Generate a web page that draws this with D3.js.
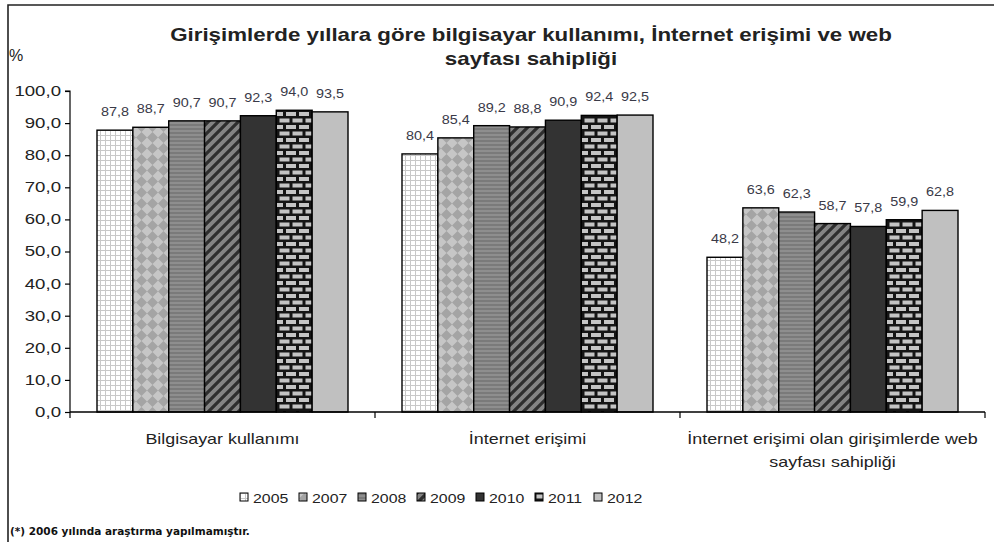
<!DOCTYPE html>
<html>
<head>
<meta charset="utf-8">
<script src="https://cdn.jsdelivr.net/npm/d3@7"></script>
<style>
  body { margin: 0; background: #fff; }
  text { font-family: "Liberation Sans", Arial, sans-serif; }
</style>
</head>
<body>
<div id="chart"></div>
<script>
var width = 994,
    height = 542;

// data
var categories = ["Bilgisayar kullanımı", "İnternet erişimi", "İnternet erişimi olan girişimlerde web sayfası sahipliği"];
var categoryLines = [["Bilgisayar kullanımı"], ["İnternet erişimi"], ["İnternet erişimi olan girişimlerde web", "sayfası sahipliği"]];
var years = ["2005", "2007", "2008", "2009", "2010", "2011", "2012"];
var v2005 = [87.8, 80.4, 48.2];
var v2007 = [88.7, 85.4, 63.6];
var v2008 = [90.7, 89.2, 62.3];
var v2009 = [90.7, 88.8, 58.7];
var v2010 = [92.3, 90.9, 57.8];
var v2011 = [94.0, 92.4, 59.9];
var v2012 = [93.5, 92.5, 62.8];
var yTicks = [0, 10, 20, 30, 40, 50, 60, 70, 80, 90, 100];

var seriesValues = [v2005, v2007, v2008, v2009, v2010, v2011, v2012];

var plotLeft = 70, plotRight = 985, plotTop = 91, plotBottom = 412;

var svg = d3.select("#chart").append("svg")
    .attr("width", width)
    .attr("height", height);

var defs = svg.append("defs");

// the original picture is stretched sideways, so text gets a horizontal scale
function wideText(parent, x, y, str, size, sx) {
    return parent.append("text")
        .attr("transform", "translate(" + x + "," + y + ") scale(" + sx + ",1)")
        .style("font-size", size + "px")
        .attr("fill", "#222")
        .text(str);
}

/* patterns, one per year */
function makePattern(id, w, h) {
    return defs.append("pattern")
        .attr("id", id)
        .attr("patternUnits", "userSpaceOnUse")
        .attr("width", w)
        .attr("height", h);
}

// 2005: white with light grid
var p = makePattern("p2005", 5, 5);
p.append("rect").attr("width", 5).attr("height", 5).attr("fill", "#ffffff");
p.append("rect").attr("width", 5).attr("height", 1).attr("fill", "#c8c8c8");
p.append("rect").attr("width", 1).attr("height", 5).attr("fill", "#c8c8c8");

// 2007: light gray diamonds
p = makePattern("p2007", 11, 11);
p.append("rect").attr("width", 11).attr("height", 11).attr("fill", "#c6c6c6");
p.append("path").attr("d", "M5.5,0 L11,5.5 L5.5,11 L0,5.5 Z").attr("fill", "#a4a4a4");

// 2008: horizontal stripes
p = makePattern("p2008", 4, 4);
p.append("rect").attr("width", 4).attr("height", 4).attr("fill", "#8e8e8e");
p.append("rect").attr("width", 4).attr("height", 2).attr("fill", "#7a7a7a");

// 2009: diagonal stripes
p = makePattern("p2009", 10, 10);
p.append("rect").attr("width", 10).attr("height", 10).attr("fill", "#848484");
p.append("path").attr("d", "M-2,12 L12,-2 M-7,7 L7,-7 M3,17 L17,3")
    .attr("stroke", "#2e2e2e").attr("stroke-width", 3.2);

// 2010: solid dark
p = makePattern("p2010", 4, 4);
p.append("rect").attr("width", 4).attr("height", 4).attr("fill", "#333333");

// 2011: bricks
p = makePattern("p2011", 13, 13);
p.append("rect").attr("width", 13).attr("height", 13).attr("fill", "#151515");
p.append("rect").attr("x", 1.5).attr("y", 1.5).attr("width", 10).attr("height", 4).attr("fill", "#c4c4c4");
p.append("rect").attr("x", -5).attr("y", 8).attr("width", 10).attr("height", 4).attr("fill", "#c4c4c4");
p.append("rect").attr("x", 8).attr("y", 8).attr("width", 10).attr("height", 4).attr("fill", "#c4c4c4");

// 2012: solid light gray
p = makePattern("p2012", 4, 4);
p.append("rect").attr("width", 4).attr("height", 4).attr("fill", "#c0c0c0");

/* frame */
svg.append("path")
    .attr("d", "M8," + height + " L8,5 L" + width + ",5")
    .attr("fill", "none")
    .attr("stroke", "#222")
    .attr("stroke-width", 1.6);

/* scales */
var x0 = d3.scaleBand().domain(categories).range([plotLeft, plotRight]).padding(0);
var x1 = d3.scaleBand().domain(years).range([27, x0.bandwidth() - 27]).padding(0);
var y = d3.scaleLinear().domain([0, 100]).range([plotBottom, plotTop]);

var fmt = function(d) { return d3.format(".1f")(d).replace(".", ","); };

/* y axis */
var ySx = 1.33;
var yAxis = svg.append("g")
    .attr("transform", "translate(" + plotLeft + ",0)")
    .call(d3.axisLeft(y).tickValues(yTicks).tickSize(5).tickPadding(3).tickFormat(fmt));
yAxis.select(".domain").attr("stroke", "#000").attr("stroke-width", 1.2)
    .attr("d", "M-5," + plotTop + "H0V" + plotBottom);
yAxis.selectAll(".tick line").attr("stroke", "#000").attr("stroke-width", 1.2);
yAxis.selectAll(".tick text")
    .attr("fill", "#222")
    .attr("x", -9 / ySx)
    .attr("transform", "scale(" + ySx + ",1)")
    .style("font-size", "14px")
    .style("font-family", "'Liberation Sans', Arial, sans-serif");

/* bars */
var groups = svg.selectAll(".grp")
    .data(categories)
    .enter().append("g")
    .attr("class", "grp")
    .attr("transform", function(d) { return "translate(" + x0(d) + ",0)"; });

groups.each(function(cat, ci) {
    var g = d3.select(this);
    var rows = years.map(function(yr, yi) { return { year: yr, value: seriesValues[yi][ci] }; });

    g.selectAll("rect")
        .data(rows)
        .enter().append("rect")
        .attr("x", function(d) { return x1(d.year); })
        .attr("y", function(d) { return y(d.value); })
        .attr("width", x1.bandwidth())
        .attr("height", function(d) { return y(0) - y(d.value); })
        .attr("fill", function(d) { return "url(#p" + d.year + ")"; })
        .attr("stroke", "#000")
        .attr("stroke-width", 1.4);

    rows.forEach(function(d) {
        wideText(g, x1(d.year) + x1.bandwidth() / 2, y(d.value) - 14, fmt(d.value), 12, 1.2)
            .attr("text-anchor", "middle")
            .attr("fill", "#3a3a48");
    });
});

/* x axis */
var xAxis = svg.append("g");
xAxis.append("line")
    .attr("x1", plotLeft).attr("x2", plotRight)
    .attr("y1", plotBottom).attr("y2", plotBottom)
    .attr("stroke", "#000").attr("stroke-width", 1.4);
var bounds = categories.map(function(c) { return x0(c); }).concat([plotRight]);
xAxis.selectAll(".xt")
    .data(bounds)
    .enter().append("line")
    .attr("x1", function(d) { return d; }).attr("x2", function(d) { return d; })
    .attr("y1", plotBottom).attr("y2", plotBottom + 6)
    .attr("stroke", "#000").attr("stroke-width", 1.2);

categoryLines.forEach(function(lines, i) {
    lines.forEach(function(l, li) {
        wideText(xAxis, x0(categories[i]) + x0.bandwidth() / 2, 444 + li * 23, l, 14, 1.28)
            .attr("text-anchor", "middle");
    });
});

/* title */
wideText(svg, 531, 41, "Girişimlerde yıllara göre bilgisayar kullanımı, İnternet erişimi ve web", 18, 1.24)
    .attr("text-anchor", "middle")
    .style("font-weight", "bold");
wideText(svg, 531, 65, "sayfası sahipliği", 18, 1.24)
    .attr("text-anchor", "middle")
    .style("font-weight", "bold");

wideText(svg, 9, 61, "%", 16, 1.0);

/* legend */
var legend = svg.append("g");
var legendX = d3.scalePoint().domain(years).range([240, 594]);
var items = legend.selectAll(".li")
    .data(years)
    .enter().append("g")
    .attr("class", "li")
    .attr("transform", function(d) { return "translate(" + legendX(d) + ",493)"; });
items.append("rect")
    .attr("width", 8).attr("height", 8)
    .attr("fill", function(d) { return "url(#p" + d + ")"; })
    .attr("stroke", "#000").attr("stroke-width", 1);
items.each(function(d) {
    wideText(d3.select(this), 13, 9.5, d, 13, 1.22);
});

/* footnote */
svg.append("text")
    .attr("x", 10)
    .attr("y", 535)
    .style("font-size", "10.5px")
    .style("font-weight", "bold")
    .style("font-family", "'DejaVu Sans', Tahoma, sans-serif")
    .attr("fill", "#111")
    .text("(*) 2006 yılında araştırma yapılmamıştır.");
</script>
</body>
</html>
